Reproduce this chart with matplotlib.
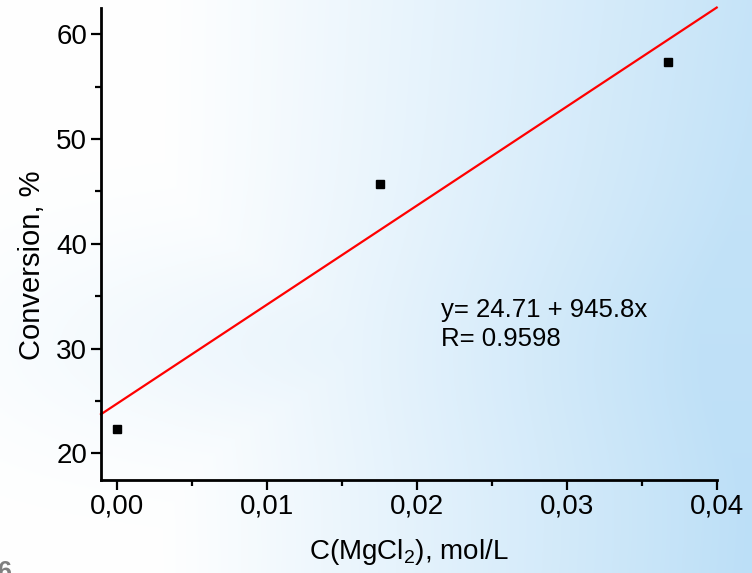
import numpy as np
import matplotlib
matplotlib.use("Agg")
import matplotlib.pyplot as plt
from matplotlib.ticker import MultipleLocator, FuncFormatter

# Data
conc = [0.0, 0.01755, 0.03677]
conversion = [22.3, 45.7, 57.35]
intercept = 24.71
slope = 945.8
fit_label = "y= 24.71 + 945.8x\nR= 0.9598"
xlabel = r"C(MgCl$_2$), mol/L"
ylabel = "Conversion, %"

main = 'Liberation Sans'
plt.rcParams['font.family'] = [main, 'DejaVu Sans']
plt.rcParams['mathtext.fontset'] = 'custom'
plt.rcParams['mathtext.rm'] = main

fig = plt.figure(figsize=(7.52, 5.73), dpi=100)

# background gradient
bg = fig.add_axes([0, 0, 1, 1], zorder=-10)
H, W = 200, 300
yy, xx = np.mgrid[0:H, 0:W]
xf = xx / (W - 1)
yf = yy / (H - 1)
t = np.clip((xf - 0.2) / 0.8, 0, 1) ** 1.1
band = np.exp(-((yf - 0.6) / 0.2) ** 2)
t = np.clip(np.maximum(t, 0.3 * band * np.clip(xf * 1.5 + 0.3, 0, 1)) + 0.1 * band * xf, 0, 1)
t = t * (0.85 + 0.15 * yf)
white = np.array([1.0, 1.0, 1.0])
blue = np.array([188, 223, 247]) / 255
img = white[None, None, :] * (1 - t[..., None]) + blue[None, None, :] * t[..., None]
bg.imshow(img, aspect='auto', extent=[0, 1, 0, 1], origin='upper')
bg.axis('off')

ax = fig.add_axes([101/752, 1 - 480/573, (716.7 - 101)/752, (480 - 8)/573])
ax.patch.set_alpha(0)

xmin, xmax = -0.00104, 0.04
ax.set_xlim(xmin, xmax)
ax.set_ylim(17.45, 62.5)

xs = np.array([xmin, xmax])
ax.plot(xs, intercept + slope * xs, color='#ff0000', lw=1.6, zorder=2, clip_on=False)
ax.plot(conc, conversion, 's', color='black', ms=6.3, zorder=3, clip_on=False)

for s in ['top', 'right']:
    ax.spines[s].set_visible(False)
for s in ['left', 'bottom']:
    ax.spines[s].set_linewidth(2)

ax.xaxis.set_major_locator(MultipleLocator(0.01))
ax.xaxis.set_minor_locator(MultipleLocator(0.005))
ax.yaxis.set_major_locator(MultipleLocator(10))
ax.yaxis.set_minor_locator(MultipleLocator(5))
ax.xaxis.set_major_formatter(FuncFormatter(lambda v, p: f"{v:.2f}".replace('.', ',')))
ax.yaxis.set_major_formatter(FuncFormatter(lambda v, p: f"{v:.0f}"))
ax.tick_params(which='major', direction='out', length=7, width=1.6, labelsize=20, pad=3)
ax.tick_params(which='minor', direction='out', length=4, width=1.6)

ax.set_xlabel(xlabel, fontsize=20, labelpad=12)
ax.set_ylabel(ylabel, fontsize=21)
ax.yaxis.set_label_coords(-0.089, 0.455)

ax.text(0.0216, 32.3, fit_label, fontsize=18.5, linespacing=1.3, va='center', ha='left')

fig.text(-0.004, 1 - 560/573, "6", fontsize=18, fontweight='bold', color='#7f7f7f',
         va='top', ha='left')

fig.savefig("out.png", dpi=100)
